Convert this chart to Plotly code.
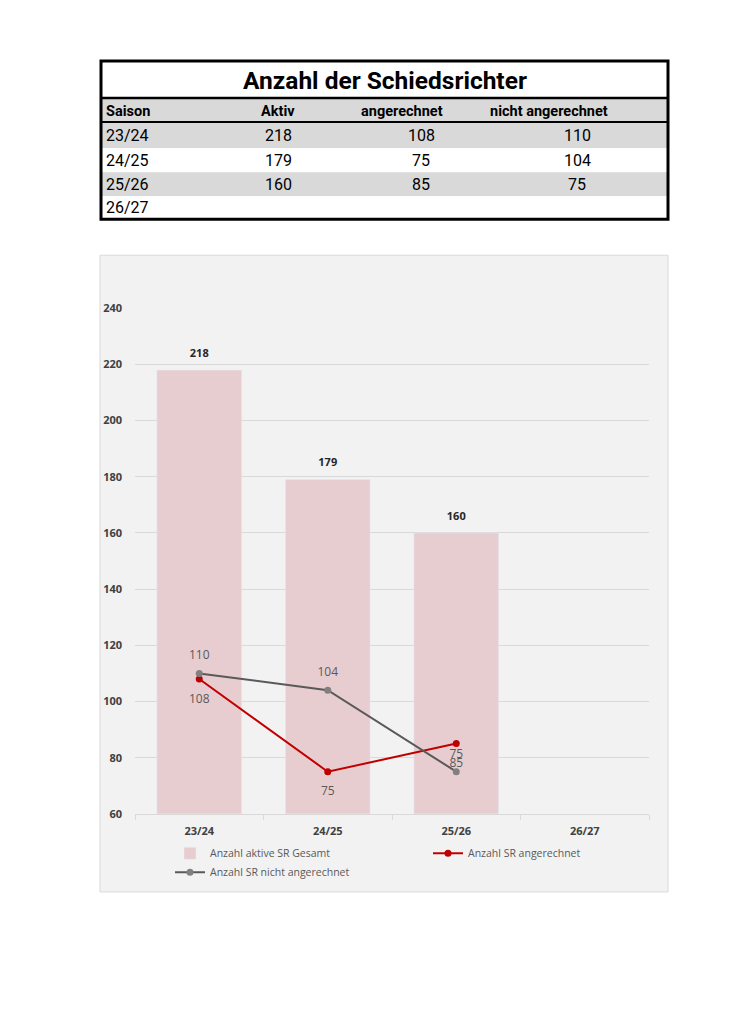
import plotly.graph_objects as go

# data
seasons = ["23/24", "24/25", "25/26", "26/27"]
aktiv = [218, 179, 160, None]
angerechnet = [108, 75, 85, None]
nicht_angerechnet = [110, 104, 75, None]

table_title = "Anzahl der Schiedsrichter"
table_header = ["Saison", "Aktiv", "angerechnet", "nicht angerechnet"]

# the page shows the figure 8px in from the left and 16px down,
# drawn 16px shorter than asked, so map reference pixels to paper
W, H = 738, 996
X0, Y0, HD = 8, 16, 980


def px(x):
    return (x - X0) / W


def py(y):
    return 1 - (y - Y0) / HD


def cell(v):
    return "" if v is None else str(v)


fig = go.Figure()

# bars and lines
fig.add_trace(go.Bar(
    x=seasons, y=aktiv,
    name="Anzahl aktive SR Gesamt",
    marker=dict(color="#e8cdd0"),
    width=0.66,
))
fig.add_trace(go.Scatter(
    x=seasons, y=angerechnet,
    name="Anzahl SR angerechnet",
    mode="lines+markers",
    line=dict(color="#c00000", width=2),
    marker=dict(color="#c00000", size=7),
))
fig.add_trace(go.Scatter(
    x=seasons, y=nicht_angerechnet,
    name="Anzahl SR nicht angerechnet",
    mode="lines+markers",
    line=dict(color="#595959", width=2),
    marker=dict(color="#808080", size=7),
))

# value labels, set a little away from the marks like Excel does
labels = [
    (aktiv, "top center", 15, dict(size=11, color="#262626", weight="bold")),
    (angerechnet, "bottom center", 22, dict(size=12, color="#595959")),
    (nicht_angerechnet, "top center", 16, dict(size=12, color="#595959")),
]
for vals, pos, gap, tfont in labels:
    fig.add_trace(go.Scatter(
        x=seasons, y=vals,
        mode="markers+text",
        marker=dict(size=gap, opacity=0),
        text=[cell(v) for v in vals],
        textposition=pos,
        textfont=dict(family="Open Sans", **tfont),
        cliponaxis=False,
        showlegend=False,
        hoverinfo="skip",
    ))

# table: row bands, borders and text built from the arrays above
table_rows = list(zip(seasons, aktiv, angerechnet, nicht_angerechnet))
row_top = [122, 148, 172, 196]
row_bot = [148, 172, 196, 219]
row_fill = ["#d9d9d9", "#ffffff", "#d9d9d9", "#ffffff"]
header_x = [104, 278, 402, 549]
value_x = [104, 278, 421, 577]
col_anchor = ["left", "center", "center", "center"]

shapes = [
    # chart box
    dict(type="rect", xref="paper", yref="paper", layer="below",
         x0=px(100), x1=px(668), y0=py(891), y1=py(255),
         fillcolor="#f2f2f2", line=dict(color="#d9d9d9", width=1)),
    # header band
    dict(type="rect", xref="paper", yref="paper", layer="below",
         x0=px(101), x1=px(668), y0=py(122), y1=py(98),
         fillcolor="#d9d9d9", line=dict(width=0)),
]
for top, bot, fill in zip(row_top, row_bot, row_fill):
    shapes.append(dict(type="rect", xref="paper", yref="paper", layer="below",
                       x0=px(101), x1=px(668), y0=py(bot), y1=py(top),
                       fillcolor=fill, line=dict(width=0)))
shapes += [
    dict(type="rect", xref="paper", yref="paper", layer="above",
         x0=px(101), x1=px(668), y0=py(219), y1=py(61),
         line=dict(color="#000000", width=3)),
    dict(type="line", xref="paper", yref="paper", layer="above",
         x0=px(101), x1=px(668), y0=py(98), y1=py(98),
         line=dict(color="#000000", width=2.5)),
    dict(type="line", xref="paper", yref="paper", layer="above",
         x0=px(101), x1=px(668), y0=py(122), y1=py(122),
         line=dict(color="#000000", width=2)),
]

annotations = [
    dict(text=f"<b>{table_title}</b>", xref="paper", yref="paper",
         x=px(385), y=py(80), xanchor="center", yanchor="middle",
         showarrow=False,
         font=dict(family="Roboto", size=24.5, color="#000000")),
]
for h, hx, anc in zip(table_header, header_x, col_anchor):
    annotations.append(dict(
        text=f"<b>{h}</b>", xref="paper", yref="paper",
        x=px(hx), y=py(111), xanchor=anc, yanchor="middle", showarrow=False,
        font=dict(family="Roboto", size=14.5, color="#000000")))
for row, top, bot in zip(table_rows, row_top, row_bot):
    for v, vx, anc in zip(row, value_x, col_anchor):
        if v is None:
            continue
        annotations.append(dict(
            text=str(v), xref="paper", yref="paper",
            x=px(vx), y=py((top + bot) / 2), xanchor=anc, yanchor="middle",
            showarrow=False,
            font=dict(family="Roboto", size=16, color="#000000")))

fig.update_layout(
    width=W, height=H,
    margin=dict(l=0, r=0, t=0, b=0),
    paper_bgcolor="#ffffff",
    plot_bgcolor="rgba(0,0,0,0)",
    font=dict(family="Open Sans", color="#595959"),
    xaxis=dict(
        domain=[px(135), px(649)],
        type="category",
        categoryorder="array", categoryarray=seasons,
        showline=True, linecolor="#d9d9d9", linewidth=1,
        ticks="outside", tickson="boundaries", ticklen=5, tickcolor="#d9d9d9",
        showgrid=False,
        tickfont=dict(size=11, color="#404040", weight="bold"),
        ticklabelstandoff=7,
    ),
    yaxis=dict(
        domain=[py(813), py(308)],
        range=[60, 240],
        dtick=20,
        showgrid=True, gridcolor="#d9d9d9", gridwidth=1,
        zeroline=False, showline=False,
        tickfont=dict(size=11, color="#404040", weight="bold"),
        ticklabelstandoff=12,
    ),
    legend=dict(
        orientation="h",
        x=px(170), y=py(838), xanchor="left", yanchor="top",
        entrywidth=213,
        itemwidth=30,
        bgcolor="rgba(0,0,0,0)",
        font=dict(size=10.5, color="#595959"),
        tracegroupgap=0,
    ),
    shapes=shapes,
    annotations=annotations,
)

fig.write_html("out.html")
